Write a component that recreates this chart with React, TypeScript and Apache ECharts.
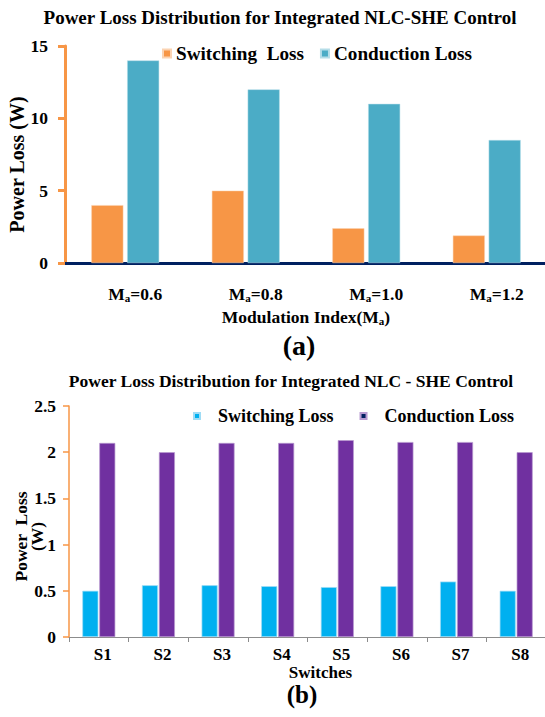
import React, { useEffect, useRef } from "react";
import * as echarts from "echarts";

// (a) losses versus modulation index
const maValues = ["0.6", "0.8", "1.0", "1.2"];
const switchingA = [4, 5, 2.4, 1.9];
const conductionA = [14, 12, 11, 8.5];
const yTicksA = { min: 0, max: 15, interval: 5 };

// (b) losses per switch
const switches = ["S1", "S2", "S3", "S4", "S5", "S6", "S7", "S8"];
const switchingB = [0.5, 0.56, 0.56, 0.55, 0.54, 0.55, 0.6, 0.5];
const conductionB = [2.1, 2.0, 2.1, 2.1, 2.13, 2.11, 2.11, 2.0];
const yTicksB = { min: 0, max: 2.5, interval: 0.5 };

const FONT = "'Liberation Serif', 'Times New Roman', serif";

export default function App() {
  const ref = useRef<HTMLDivElement>(null);

  useEffect(() => {
    if (!ref.current) return;
    const chart = echarts.init(ref.current, undefined, { renderer: "svg" });
    const bold = { fontFamily: FONT, fontWeight: "bold" as const, color: "#000" };

    chart.setOption({
      animation: false,
      backgroundColor: "#fff",
      textStyle: { fontFamily: FONT },
      title: [
        {
          text: "Power Loss Distribution for Integrated NLC-SHE Control",
          left: 275,
          textAlign: "center",
          top: 3,
          textStyle: { ...bold, fontSize: 19 },
        },
        {
          text: "Power Loss Distribution for Integrated NLC - SHE Control",
          left: 286,
          textAlign: "center",
          top: 367,
          textStyle: { ...bold, fontSize: 17.5 },
        },
      ],
      legend: [
        {
          data: [{ name: "Switching  Loss" }, { name: "Conduction Loss" }],
          left: 157,
          top: 39,
          icon: "rect",
          itemWidth: 8,
          itemHeight: 8,
          itemGap: 16,
          textStyle: { ...bold, fontSize: 19.2 },
        },
        {
          data: [
            { name: "Switching Loss" },
            { name: "Conduction Loss ", itemStyle: { color: "#002060" } },
          ],
          left: 188,
          top: 402,
          icon: "rect",
          itemWidth: 6,
          itemHeight: 6,
          itemGap: 26,
          textStyle: { ...bold, fontSize: 18, padding: [0, 0, 0, 13] },
        },
      ],
      grid: [
        { left: 65, top: 46, width: 482, height: 217, outerBoundsMode: "none" },
        { left: 69, top: 406, width: 477, height: 231, outerBoundsMode: "none" },
      ],
      xAxis: [
        {
          type: "category",
          gridIndex: 0,
          data: maValues,
          axisLine: { lineStyle: { color: "#002060", width: 3 } },
          axisTick: { show: false },
          axisLabel: {
            interval: 0,
            margin: 21,
            padding: [0, 0, 0, 20],
            formatter: (v: string) => `{m|M}{s|a}{m|=${v}}`,
            rich: {
              m: { ...bold, fontSize: 17.5 },
              s: { ...bold, fontSize: 11, padding: [8, 0, 0, 0] },
            },
          },
          name: "{m|Modulation Index(M}{s|a}{m|)}",
          nameLocation: "middle",
          nameGap: 44,
          nameMoveOverlap: false,
          nameTextStyle: {
            rich: {
              m: { ...bold, fontSize: 17.5 },
              s: { ...bold, fontSize: 11, padding: [8, 0, 0, 0] },
            },
          },
        },
        {
          type: "category",
          gridIndex: 1,
          data: switches,
          axisLine: { lineStyle: { color: "#8c8c8c", width: 1 } },
          axisTick: { show: true, length: 5, lineStyle: { color: "#8c8c8c" } },
          axisLabel: { ...bold, fontSize: 17, margin: 9, interval: 0, padding: [0, 0, 0, 8] },
          name: "Switches",
          nameLocation: "middle",
          nameGap: 27,
          nameMoveOverlap: false,
          nameTextStyle: { ...bold, fontSize: 17, padding: [0, 0, 0, 26] },
        },
      ],
      yAxis: [
        {
          type: "value",
          gridIndex: 0,
          ...yTicksA,
          splitLine: { show: false },
          axisLine: { show: true, lineStyle: { color: "#f79646", width: 3 } },
          axisTick: { show: true, length: 7, lineStyle: { color: "#f79646", width: 3 } },
          axisLabel: { ...bold, fontSize: 17.5, margin: 17 },
          name: "Power Loss (W)",
          nameLocation: "middle",
          nameGap: 38,
          nameMoveOverlap: false,
          nameTextStyle: { ...bold, fontSize: 20, padding: [0, 20, 0, 0] },
        },
        {
          type: "value",
          gridIndex: 1,
          ...yTicksB,
          splitLine: { show: false },
          axisLine: { show: true, lineStyle: { color: "#f79646", width: 1.5 } },
          axisTick: { show: true, length: 6, lineStyle: { color: "#f79646", width: 1.5 } },
          axisLabel: { ...bold, fontSize: 17.5, margin: 13 },
          name: "Power  Loss\n(W)",
          nameLocation: "middle",
          nameGap: 24,
          nameMoveOverlap: false,
          nameTextStyle: { ...bold, fontSize: 17.5, lineHeight: 16, padding: [0, 30, 0, 0] },
        },
      ],
      series: [
        {
          name: "Switching  Loss",
          type: "bar",
          xAxisIndex: 0,
          yAxisIndex: 0,
          data: switchingA,
          barWidth: 32,
          barGap: "12%",
          itemStyle: { color: "#f79646", borderColor: "#fbd3b2", borderWidth: 0.5 },
        },
        {
          name: "Conduction Loss",
          type: "bar",
          xAxisIndex: 0,
          yAxisIndex: 0,
          data: conductionA,
          barWidth: 32,
          barGap: "12%",
          itemStyle: { color: "#4bacc6", borderColor: "#b5dde8", borderWidth: 0.5 },
        },
        {
          name: "Switching Loss",
          type: "bar",
          xAxisIndex: 1,
          yAxisIndex: 1,
          data: switchingB,
          barWidth: 16,
          barGap: "6%",
          itemStyle: { color: "#00b0f0", borderColor: "#9fdcf5", borderWidth: 0.7 },
        },
        {
          name: "Conduction Loss ",
          type: "bar",
          xAxisIndex: 1,
          yAxisIndex: 1,
          data: conductionB,
          barWidth: 16,
          barGap: "6%",
          itemStyle: { color: "#7030a0", borderColor: "#b79ad0", borderWidth: 0.7 },
        },
      ],
      graphic: [
        {
          type: "text",
          x: 299,
          y: 331,
          style: {
            text: "(a)",
            fontFamily: FONT,
            fontWeight: "bold",
            fontSize: 28,
            fill: "#000",
            align: "center",
            verticalAlign: "top",
          },
        },
        {
          type: "text",
          x: 302,
          y: 682,
          style: {
            text: "(b)",
            fontFamily: FONT,
            fontWeight: "bold",
            fontSize: 25,
            fill: "#000",
            align: "center",
            verticalAlign: "top",
          },
        },
      ],
    });

    return () => chart.dispose();
  }, []);

  return (
    <div
      ref={ref}
      style={{ position: "absolute", left: 0, top: 0, width: 545, height: 717 }}
    />
  );
}
